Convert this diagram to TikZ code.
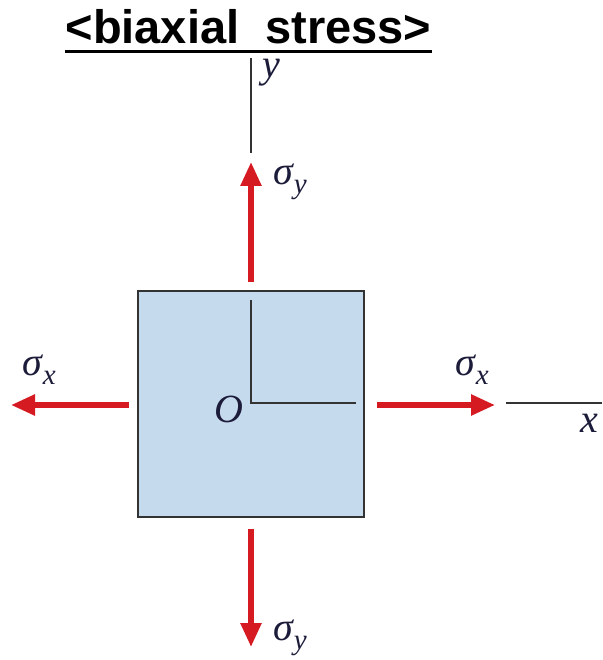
\documentclass[tikz,border=0pt]{standalone}
\usepackage{fontspec}
\newfontfamily\titlefont{Liberation Sans}
\newfontfamily\lblfont{Liberation Serif}
\usetikzlibrary{positioning,arrows.meta,calc}
\definecolor{stressred}{RGB}{214,26,34}
\definecolor{plateblue}{RGB}{198,218,238}
\definecolor{labelnavy}{RGB}{28,28,58}
\newcommand{\stresslbl}[1]{σ\kern1pt\raisebox{-9pt}{\fontsize{29}{29}\selectfont #1}}

\begin{document}
\begin{tikzpicture}[x=1pt, y=-1pt, >=Stealth,
    force/.style={line width=5.5pt, stressred, -{Triangle[length=24pt,width=20pt]}},
    axis/.style={line width=1.4pt, black!80},
    lbl/.style={inner sep=0pt, text=labelnavy, font=\lblfont\itshape\fontsize{40}{46}\selectfont}]
    \useasboundingbox (0,0) rectangle (602,660);

    % Title
    \node[anchor=base, inner sep=0pt, font=\titlefont\bfseries\fontsize{47}{54}\selectfont] (title) at (248.5,44) {<biaxial\ \ stress>};
    \draw[line width=3pt] ([yshift=-8pt]title.base west) -- ([yshift=-8pt]title.base east);

    % Plate and axes
    \node[draw=black!80, line width=2pt, fill=plateblue, minimum size=226pt, inner sep=0pt] (plate) at (251,404) {};
    \coordinate (O) at (251,403);
    \coordinate (yin) at (251,300);
    \coordinate (xin) at (356,403);
    \coordinate (ytop) at (251,58);
    \coordinate (ybot) at (251,153);
    \coordinate (xleft) at (506,403);
    \coordinate (xright) at (602,403);
    \draw[axis] (yin) -- (O) -- (xin);
    \draw[axis] (ybot) -- (ytop);
    \draw[axis] (xleft) -- (xright);

    % Stress arrows
    \coordinate[above=8pt of plate.north] (up0);
    \coordinate[above=120pt of up0] (up1);
    \coordinate[below=11pt of plate.south] (dn0);
    \coordinate[below=118pt of dn0] (dn1);
    \coordinate[left=8pt of plate.west, yshift=-1pt] (lt0);
    \coordinate[left=118pt of lt0] (lt1);
    \coordinate[right=12pt of plate.east, yshift=-1pt] (rt0);
    \coordinate[right=118pt of rt0] (rt1);
    \draw[force] (up0) -- (up1);
    \draw[force] (dn0) -- (dn1);
    \draw[force] (lt0) -- (lt1);
    \draw[force] (rt0) -- (rt1);

    % Labels
    \node[lbl, anchor=base west] (sy1) at (273,185) {\stresslbl{y}};
    \node[lbl, anchor=base west] (sy2) at (273,640) {\stresslbl{y}};
    \node[lbl, anchor=base west] (sx1) at (22,375) {\stresslbl{x}};
    \node[lbl, anchor=base west] (sx2) at (455,375) {\stresslbl{x}};
    \node[lbl, anchor=base west] (olbl) at (214,422) {O};
    \node[lbl, anchor=base west, text height=18pt] (ylbl) at (262,78) {y};
    \node[lbl, anchor=base west] (xlbl) at (580,432) {x};
\end{tikzpicture}
\end{document}
